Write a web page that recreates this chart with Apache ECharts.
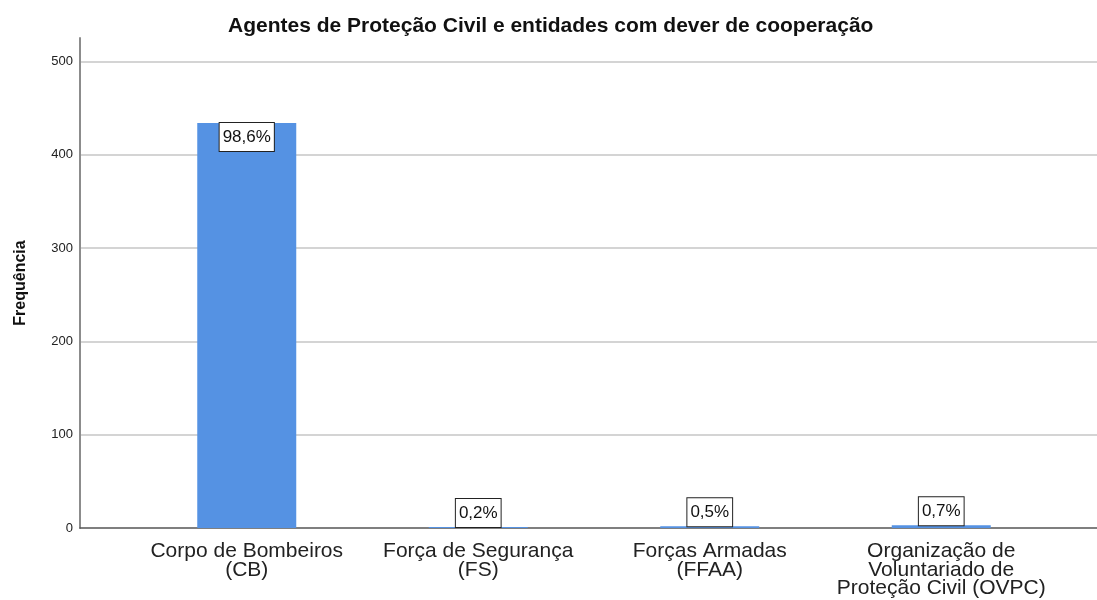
<!DOCTYPE html>
<html>
<head>
<meta charset="utf-8">
<script src="https://cdn.jsdelivr.net/npm/echarts@6/dist/echarts.min.js"></script>
<style>
  html, body { margin: 0; padding: 0; background: #fff; }
  #chart { width: 1097px; height: 600px; }
</style>
</head>
<body>
<div id="chart"></div>
<script>
// categorias do eixo x
const categories = [
    "Corpo de Bombeiros\n(CB)",
    "Força de Segurança\n(FS)",
    "Forças Armadas\n(FFAA)",
    "Organização de\nVoluntariado de\nProteção Civil (OVPC)",
];
// frequências
const frequencies = [434, 1, 2, 3];
// percentagens mostradas nas barras
const pctLabels = ["98,6%", "0,2%", "0,5%", "0,7%"];
// eixo y
const yMin = 0;
const yMax = 525;
const yInterval = 100;

const myChart = echarts.init(document.getElementById("chart"));

const barColor = "#5592e3";
const fontFamily = "'Liberation Sans', Arial, sans-serif";

const seriesData = frequencies.map((v, i) => ({
    value: v,
    label: {
        // a barra grande tem o rótulo por dentro
        position: v > 100 ? "insideTop" : "top",
        distance: 0,
        formatter: pctLabels[i],
    },
}));

const option = {
    animation: false,
    title: {
        text: "Agentes de Proteção Civil e entidades com dever de cooperação",
        left: 228,
        top: 16,
        padding: 0,
        textStyle: {
            fontFamily,
            fontSize: 21,
            fontWeight: "bold",
            color: "#111",
        },
    },
    grid: [
        { left: 80, right: 0, top: 38, bottom: 72 },
        { left: 131, right: 40, top: 38, bottom: 72 },
    ],
    xAxis: [
        {
            type: "category",
            gridIndex: 0,
            data: [""],
            axisLine: { show: true, lineStyle: { color: "#555", width: 1.5 } },
            axisTick: { show: false },
            axisLabel: { show: false },
        },
        {
            type: "category",
            gridIndex: 1,
            data: categories,
            axisLine: { show: false },
            axisTick: { show: false },
            axisLabel: {
                interval: 0,
                margin: 14,
                fontFamily,
                fontSize: 21,
                lineHeight: 18.5,
                color: "#222",
            },
        },
    ],
    yAxis: [
        {
            type: "value",
            gridIndex: 0,
            min: yMin,
            max: yMax,
            interval: yInterval,
            name: "Frequência",
            nameLocation: "middle",
            nameGap: 51,
            nameTextStyle: {
                fontFamily,
                fontSize: 16,
                fontWeight: "bold",
                color: "#111",
            },
            axisLine: { show: true, lineStyle: { color: "#8c8c8c", width: 2 } },
            axisTick: { show: false },
            axisLabel: {
                showMaxLabel: false,
                margin: 7,
                fontFamily,
                fontSize: 13,
                color: "#222",
            },
            splitLine: {
                show: true,
                showMinLine: false,
                showMaxLine: false,
                lineStyle: { color: "#d4d4d4", width: 2 },
            },
        },
        {
            type: "value",
            gridIndex: 1,
            min: yMin,
            max: yMax,
            interval: yInterval,
            show: false,
            splitLine: { show: false },
        },
    ],
    series: [
        {
            type: "bar",
            xAxisIndex: 1,
            yAxisIndex: 1,
            barWidth: 99,
            data: seriesData,
            itemStyle: { color: barColor },
            label: {
                show: true,
                fontFamily,
                fontSize: 17,
                lineHeight: 17,
                color: "#111",
                backgroundColor: "#fff",
                borderColor: "#222",
                borderWidth: 1,
                padding: [6, 3, 5, 3],
            },
        },
    ],
};

myChart.setOption(option);
</script>
</body>
</html>
